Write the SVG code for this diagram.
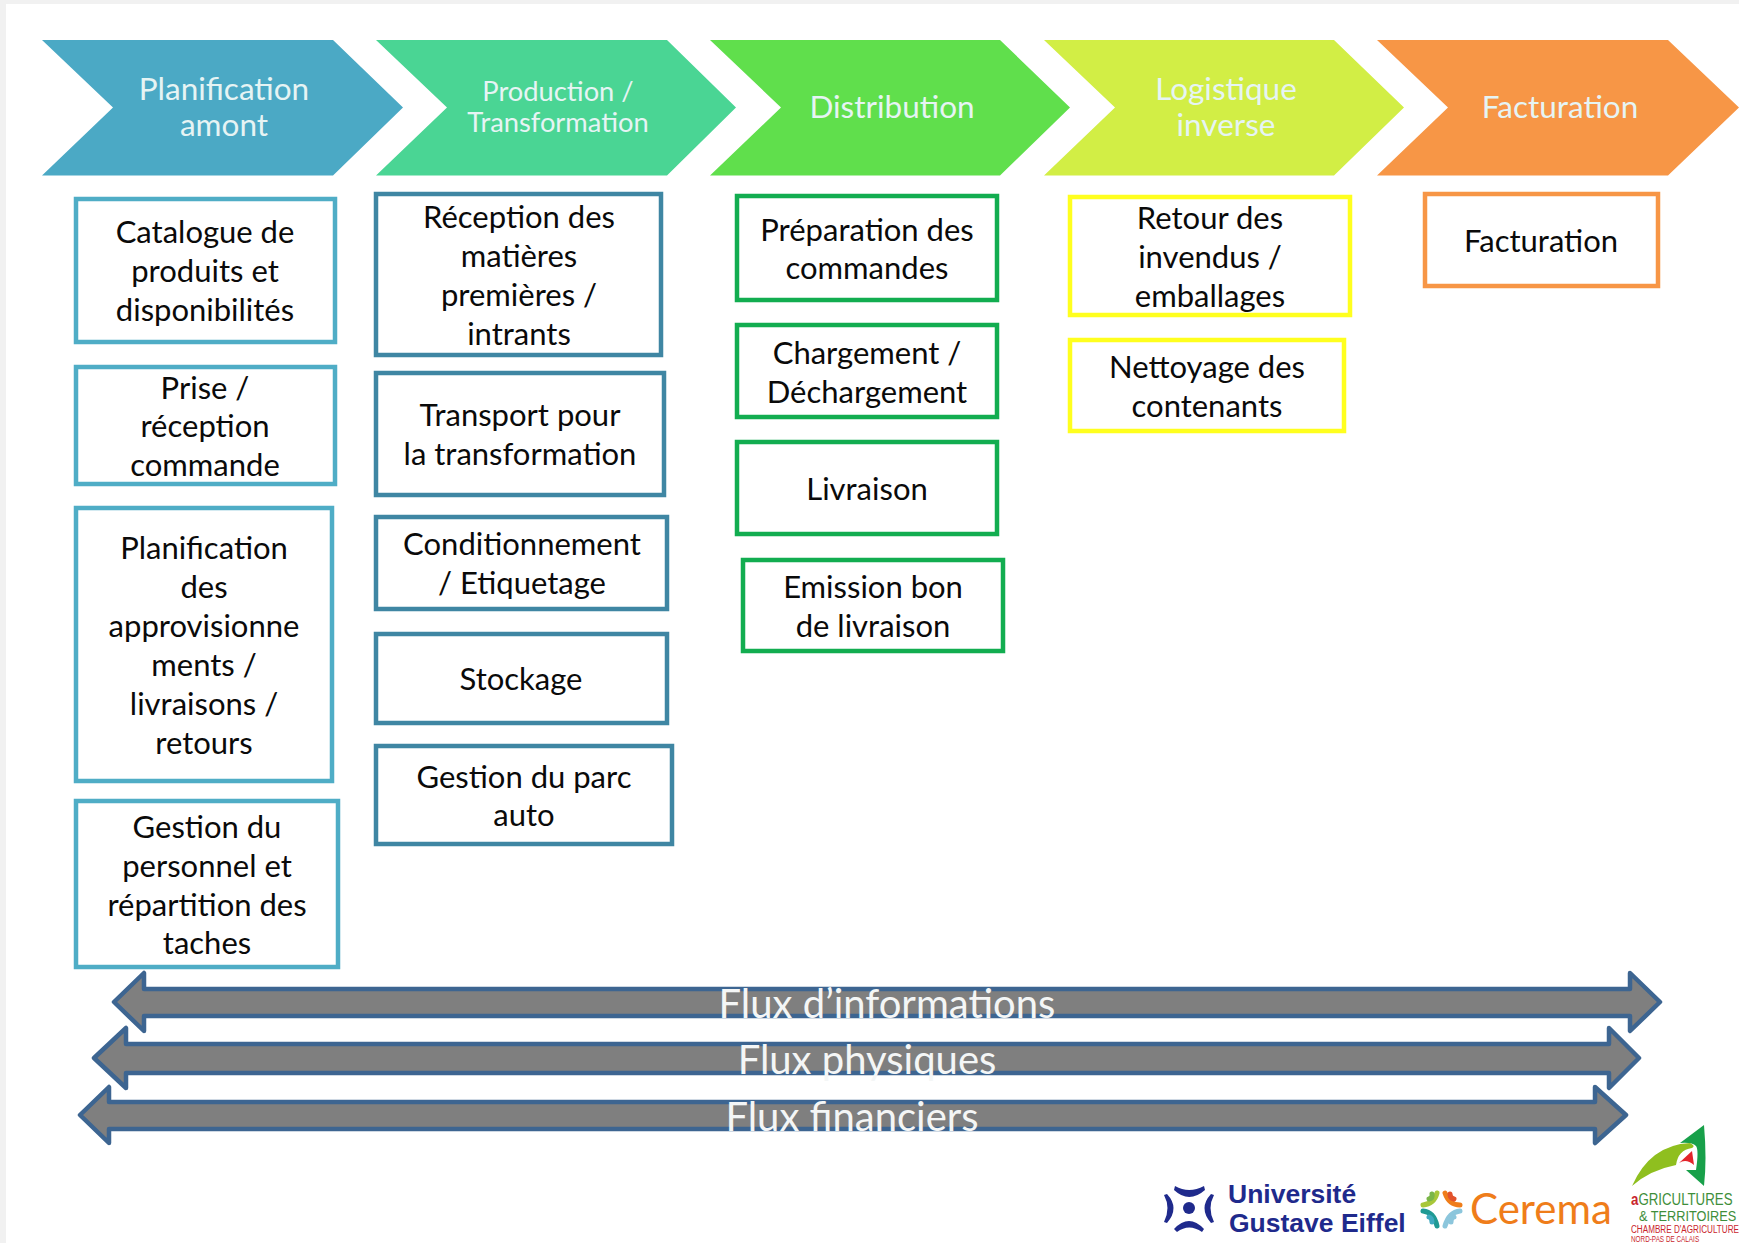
<svg xmlns="http://www.w3.org/2000/svg" width="1739" height="1243" viewBox="0 0 1739 1243">
<style>
text{font-family:"Lato","Liberation Sans",sans-serif;text-anchor:middle}
.b{fill:#fff;stroke-width:4.5}
.t{font-size:31px;fill:#0a0a0a}
.h{font-size:31.5px;fill:#e6f4f4}
.h2{font-size:27.3px;fill:#e6f4f4}
.c1{stroke:#4FADC6}.c2{stroke:#3F86A3}.c3{stroke:#12AD50}.c4{stroke:#FFFF1E}.c5{stroke:#F79646}
.a{fill:#7F7F7F;stroke:#3D6591;stroke-width:4.5;stroke-linejoin:round}
.f{font-size:40px;fill:#f4f6f6}
.l{text-anchor:start;font-family:"Liberation Sans",sans-serif}
.s{fill:none;stroke-linecap:round;stroke-width:5}
</style>
<rect width="1739" height="1243" fill="#fff"/>
<rect width="1739" height="4" fill="#f1f1f1"/>
<rect width="6" height="1243" fill="#f1f1f1"/>
<g id="stages">
<g id="stage1"><polygon points="42,40 333,40 403,107.5 333,175.5 42,175.5 113,107.5" fill="#4BA9C5"/><text class="h" x="224" y="100">Planification</text><text class="h" x="224" y="135.500">amont</text></g>
<g id="stage2"><polygon points="376,40 667,40 736,107.5 667,175.5 376,175.5 447,107.5" fill="#4AD594"/><text class="h2" x="558" y="101">Production /</text><text class="h2" x="558" y="132">Transformation</text></g>
<g id="stage3"><polygon points="710,40 1000,40 1070,107.5 1000,175.5 710,175.5 781,107.5" fill="#60DF4C"/><text class="h" x="892" y="118">Distribution</text></g>
<g id="stage4"><polygon points="1044,40 1334,40 1404,107.5 1334,175.5 1044,175.5 1115,107.5" fill="#D2EE45"/><text class="h" x="1226" y="100">Logistique</text><text class="h" x="1226" y="135.500">inverse</text></g>
<g id="stage5"><polygon points="1377,40 1668,40 1739,107.5 1668,175.5 1377,175.5 1448,107.5" fill="#F79646"/><text class="h" x="1560" y="118">Facturation</text></g>
</g>
<g id="col1">
<g id="n11"><rect class="b c1" x="76" y="199" width="259" height="143"/><text class="t" x="205" y="243">Catalogue de</text><text class="t" x="205" y="282">produits et</text><text class="t" x="205" y="320.500">disponibilités</text></g>
<g id="n12"><rect class="b c1" x="76" y="367" width="259" height="117"/><text class="t" x="205" y="398.500">Prise /</text><text class="t" x="205" y="437">réception</text><text class="t" x="205" y="476">commande</text></g>
<g id="n13"><rect class="b c1" x="76" y="508" width="256" height="273"/><text class="t" x="204" y="559">Planification</text><text class="t" x="204" y="598">des</text><text class="t" x="204" y="637">approvisionne</text><text class="t" x="204" y="675.500">ments /</text><text class="t" x="204" y="714.500">livraisons /</text><text class="t" x="204" y="753.500">retours</text></g>
<g id="n14"><rect class="b c1" x="76" y="801" width="262" height="166"/><text class="t" x="207" y="838">Gestion du</text><text class="t" x="207" y="876.500">personnel et</text><text class="t" x="207" y="915.500">répartition des</text><text class="t" x="207" y="954">taches</text></g>
</g>
<g id="col2">
<g id="n21"><rect class="b c2" x="376" y="194" width="285" height="161"/><text class="t" x="519" y="228">Réception des</text><text class="t" x="519" y="267">matières</text><text class="t" x="519" y="305.500">premières /</text><text class="t" x="519" y="345">intrants</text></g>
<g id="n22"><rect class="b c2" x="376" y="373" width="288" height="122"/><text class="t" x="520" y="426">Transport pour</text><text class="t" x="520" y="465">la transformation</text></g>
<g id="n23"><rect class="b c2" x="376" y="517" width="291" height="92"/><text class="t" x="522" y="555">Conditionnement</text><text class="t" x="522" y="593.500">/ Etiquetage</text></g>
<g id="n24"><rect class="b c2" x="376" y="634" width="291" height="89"/><text class="t" x="521" y="690">Stockage</text></g>
<g id="n25"><rect class="b c2" x="376" y="746" width="296" height="98"/><text class="t" x="524" y="788">Gestion du parc</text><text class="t" x="524" y="826">auto</text></g>
</g>
<g id="col3">
<g id="n31"><rect class="b c3" x="737" y="196" width="260" height="104"/><text class="t" x="867" y="241">Préparation des</text><text class="t" x="867" y="279">commandes</text></g>
<g id="n32"><rect class="b c3" x="737" y="325" width="260" height="92"/><text class="t" x="867" y="364">Chargement /</text><text class="t" x="867" y="403">Déchargement</text></g>
<g id="n33"><rect class="b c3" x="737" y="442" width="260" height="92"/><text class="t" x="867" y="500">Livraison</text></g>
<g id="n34"><rect class="b c3" x="743" y="560" width="260" height="91"/><text class="t" x="873" y="598">Emission bon</text><text class="t" x="873" y="637">de livraison</text></g>
</g>
<g id="col4">
<g id="n41"><rect class="b c4" x="1070" y="197" width="280" height="118"/><text class="t" x="1210" y="229">Retour des</text><text class="t" x="1210" y="268">invendus /</text><text class="t" x="1210" y="306.500">emballages</text></g>
<g id="n42"><rect class="b c4" x="1070" y="340" width="274" height="91"/><text class="t" x="1207" y="378">Nettoyage des</text><text class="t" x="1207" y="417">contenants</text></g>
</g>
<g id="col5">
<g id="n51"><rect class="b c5" x="1425" y="194" width="233" height="92"/><text class="t" x="1541" y="252">Facturation</text></g>
</g>
<g id="connectors">
<g id="flux1"><polygon class="a" points="114,1002 144,973 144,989 1630,989 1630,973 1660,1002 1630,1031 1630,1016 144,1016 144,1031"/><text class="f" x="887" y="1018">Flux d’informations</text></g>
<g id="flux2"><polygon class="a" points="94,1058 126,1028 126,1044 1609,1044 1609,1028 1639,1058 1609,1088 1609,1073 126,1073 126,1088"/><text class="f" x="867" y="1074">Flux physiques</text></g>
<g id="flux3"><polygon class="a" points="80,1115 109,1087 109,1102 1595,1102 1595,1087 1626,1115 1595,1143 1595,1129 109,1129 109,1143"/><text class="f" x="852" y="1131">Flux financiers</text></g>
</g>
<g id="logos">
<g id="eiffel" fill="#1F2A8C">
<circle cx="1189" cy="1208" r="6"/>
<path d="M1175 1186Q1189 1194 1204 1186L1205 1190Q1189 1204 1174 1190Z"/>
<path d="M1177 1232Q1189 1223 1202 1232L1204 1229Q1189 1213 1174 1229Z"/>
<path d="M1164 1195Q1171 1208 1164 1222L1167 1223Q1180 1208 1167 1194Z"/>
<path d="M1214 1195Q1207 1208 1214 1222L1211 1223Q1198 1208 1211 1194Z"/>
<text class="l" x="1228" y="1203" font-size="26.500" font-weight="700">Université</text>
<text class="l" x="1229" y="1232" font-size="26.500" font-weight="700">Gustave Eiffel</text>
</g>
<g id="cerema">
<path class="s" d="M1423 1205Q1434 1204 1437 1193" stroke="#A8C73A"/>
<path class="s" d="M1429 1199Q1433 1198 1432 1194" stroke="#7AB648"/>
<path class="s" d="M1460 1205Q1449 1205 1445 1193" stroke="#EF7D1A"/>
<path class="s" d="M1454 1199Q1450 1198 1450 1194" stroke="#E2522B"/>
<path class="s" d="M1423 1211Q1434 1212 1437 1226" stroke="#1F9A94"/>
<path class="s" d="M1429 1217Q1432 1218 1432 1222" stroke="#3FA9C0"/>
<path class="s" d="M1460 1211Q1449 1212 1445 1226" stroke="#8CC6DC"/>
<path class="s" d="M1454 1217Q1451 1218 1451 1222" stroke="#8CC6DC"/>
<text class="l" x="1470" y="1224" font-size="42" fill="#EF7D1A" style="font-family:Lato,sans-serif">Cerema</text>
</g>
<g id="agri">
<path d="M1704 1125Q1707 1160 1704 1186L1686 1170L1696 1170Q1699 1150 1696 1146Q1692 1142 1680 1143Z" fill="#18A04A"/>
<path d="M1632 1186Q1650 1145 1690 1143Q1696 1146 1692 1148Q1678 1150 1676 1165Q1650 1170 1632 1186Z" fill="#8FBF1F"/>
<path d="M1679 1163L1692 1151L1694 1165Q1686 1158 1679 1163Z" fill="#E3242B"/>
<text class="l" transform="translate(1631 1205) scale(.83 1)" font-size="16"><tspan fill="#C9252C" font-weight="700">a</tspan><tspan fill="#3E8E3A">GRICULTURES</tspan></text>
<text class="l" transform="translate(1639 1221) scale(.85 1)" font-size="15" fill="#3E8E3A">&amp; TERRITOIRES</text>
<text class="l" transform="translate(1631 1233) scale(.74 1)" font-size="11" fill="#C9252C">CHAMBRE D'AGRICULTURE</text>
<text class="l" transform="translate(1631 1242) scale(.75 1)" font-size="8.500" fill="#C9252C">NORD-PAS DE CALAIS</text>
</g>
</g>
</svg>
